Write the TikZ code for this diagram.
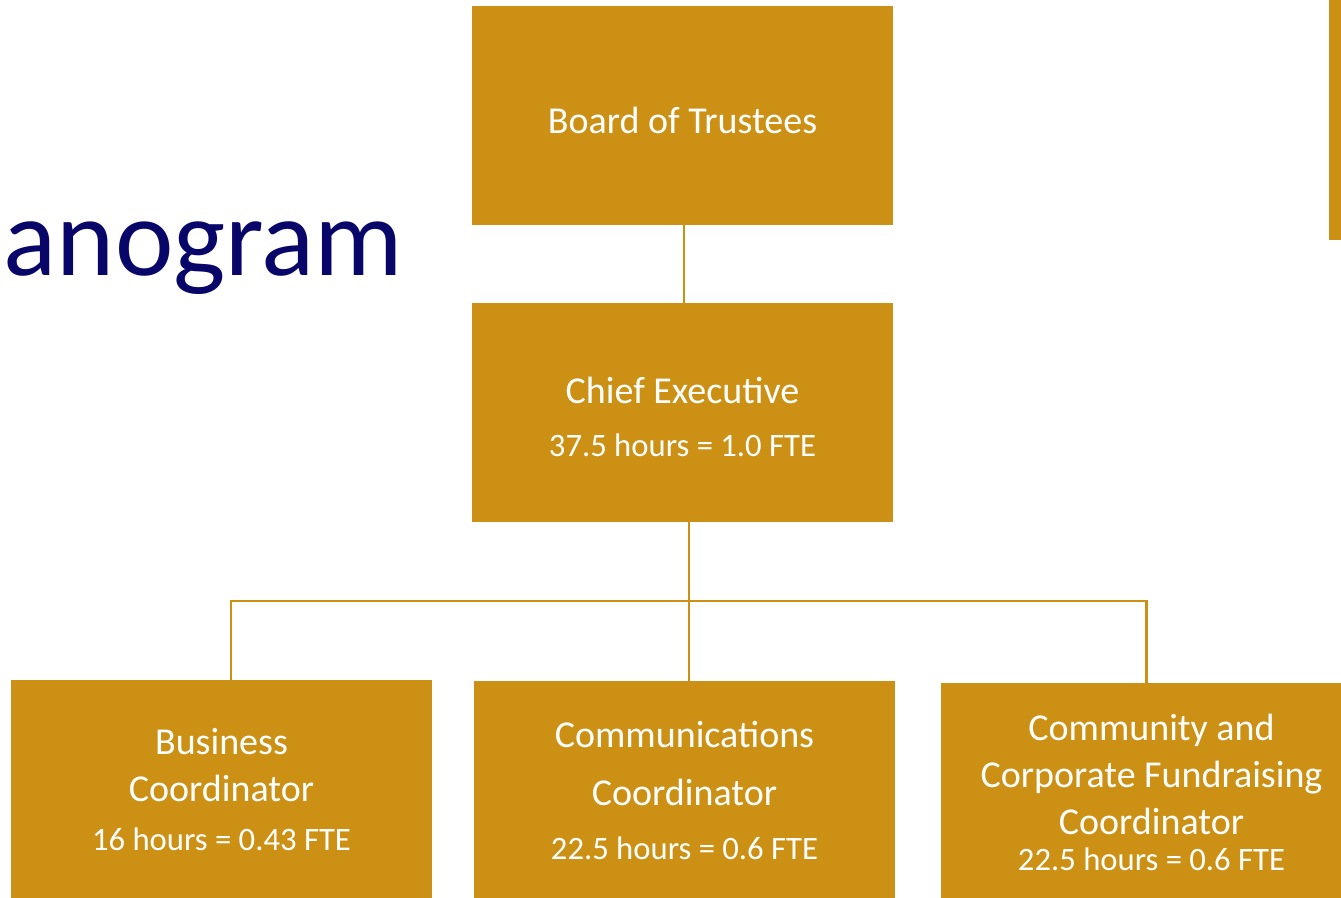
\documentclass[tikz,border=0pt]{standalone}
\usepackage{fontspec}
\setmainfont{Carlito}
\definecolor{gold}{RGB}{204,145,20}
\definecolor{navy}{RGB}{8,6,104}
\newcommand{\fte}[1]{{\fontsize{24.5}{35.25}\selectfont #1}}
\tikzset{
  post/.style={fill=gold, text=white, inner sep=0pt, align=center,
    minimum width=315.75pt, minimum height=164.25pt,
    font=\fontsize{28.5}{35.25}\selectfont},
  link/.style={draw=gold, line width=2.2pt}
}
\begin{document}
\begin{tikzpicture}[x=0.75pt,y=-0.75pt]
  \clip (0,0) rectangle (1341,898);
  \useasboundingbox (0,0) rectangle (1341,898);
  \fill[gold] (1329,-5) rectangle (1400,240);
  \node[anchor=base east, text=navy, font=\fontsize{83}{90}\selectfont] (title) at (408,276) {anogram};
  \node[post] (board) at (682.5,115.5) {\rule{0pt}{27pt}Board of Trustees};
  \node[post] (chief) at (682.5,412.5) {\rule{0pt}{27pt}Chief Executive\\[4.5pt]\fte{37.5 hours = 1.0 FTE}};
  \node[post] (busi) at (221.5,789.5) {Business\\Coordinator\\[1.5pt]\fte{16 hours = 0.43 FTE}};
  \node[post] (comm) at (684.5,790.5) {Communications\\[8.25pt]Coordinator\\[5.25pt]\fte{22.5 hours = 0.6 FTE}};
  \node[post] (fund) at (1151.5,792.5) {Community and\\Corporate Fundraising\\Coordinator\\[-8.25pt]\fte{22.5 hours = 0.6 FTE}};
  \coordinate (bus) at (689,601);
  \draw[link] ([xshift=1.1pt]board.south) -- ([xshift=1.1pt]chief.north);
  \draw[link] (chief.south -| bus) -- (bus) -- (comm.north -| bus);
  \draw[link] ([xshift=7.1pt]busi.north) |- (bus) -| ([xshift=-4.1pt]fund.north);
\end{tikzpicture}
\end{document}
